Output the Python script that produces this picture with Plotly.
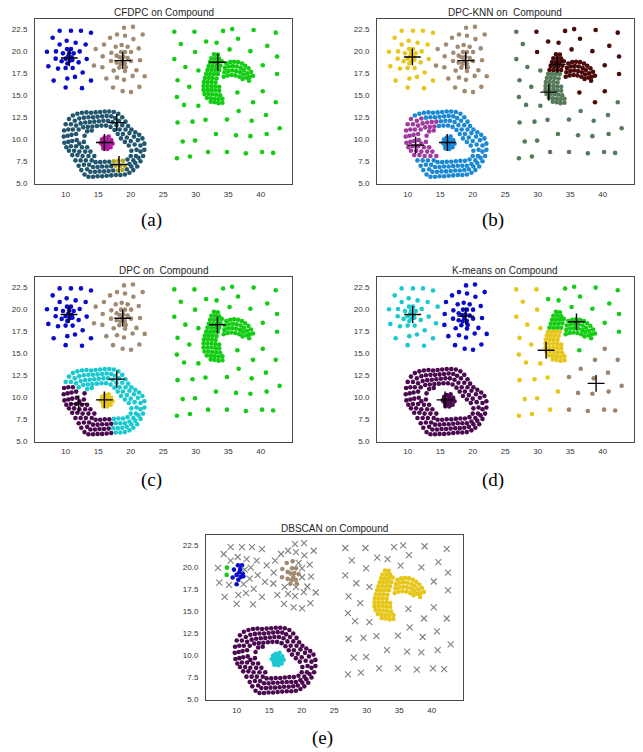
import plotly.graph_objects as go

W, H = 643, 752

# ---------------- data (Compound data set) ----------------
# top-left blob
TL_core = [(10.2, 20.24), (10.81, 20.24), (9.58, 19.75), (10.4, 19.45), (10.92, 19.3), (9.99, 19.15),
           (10.61, 18.92), (11.02, 18.99), (9.38, 18.85), (9.99, 18.09), (10.55, 19.8), (10.25, 18.6)]
TL_green = [(8.51, 19.97), (8.46, 19.15)]
TL_rest = [(9.07, 22.31), (10.81, 22.31), (12.35, 22.31), (13.89, 22.08), (8.0, 21.52), (10.15, 21.18),
           (9.07, 20.76), (11.53, 20.95), (13.07, 20.76), (7.12, 19.94), (11.23, 19.75), (12.15, 19.97),
           (11.99, 18.73), (13.23, 19.11), (7.33, 18.28), (8.82, 18.02), (11.07, 18.09), (12.61, 17.57),
           (8.15, 16.66), (10.25, 16.89), (11.43, 17.08), (13.89, 16.66), (9.99, 15.87), (12.51, 15.8)]

# top-middle blob
TM_cyan = [(14.61, 20.24), (14.35, 18.36)]
TM_core = [(18.61, 20.69), (17.69, 20.5), (17.02, 19.82), (18.51, 19.9), (19.12, 19.9), (17.84, 19.49),
           (18.87, 19.37), (19.53, 19.22), (16.97, 18.88), (17.84, 18.7), (18.71, 18.92), (18.25, 18.13),
           (19.23, 18.17), (18.3, 19.3), (19.1, 18.6), (18.45, 18.55)]
TM_rest = [(18.97, 22.65), (20.35, 22.76), (17.89, 21.89), (19.12, 21.74), (21.84, 21.89), (16.82, 21.52),
           (20.41, 21.37), (15.89, 20.76), (19.53, 20.5), (21.23, 20.31), (20.05, 19.9), (15.69, 19.41),
           (20.05, 18.88), (21.43, 18.96), (15.64, 18.17), (17.38, 17.79), (19.12, 17.75), (20.87, 17.83),
           (16.25, 16.89), (17.89, 17.0), (18.97, 16.74), (20.3, 17.19), (22.15, 17.15), (17.28, 15.87),
           (18.76, 15.46), (20.05, 15.35), (21.33, 15.95)]

# ring
R_A = [(10.0, 11.7), (10.5, 12.3), (10.8, 11.7), (11.4, 12.1), (12.1, 12.35), (11.6, 11.55), (12.3, 11.8),
       (13.0, 11.9), (13.7, 11.95), (14.4, 12.0), (12.0, 11.1), (12.7, 11.35), (13.4, 11.4), (14.1, 11.45),
       (13.3, 10.9), (14.0, 11.0)]
R_B = [(9.8, 9.6), (9.7, 10.3), (11.0, 8.2), (10.5, 8.7), (10.1, 9.1), (9.75, 11.0),
       (10.4, 9.7), (10.3, 10.4), (11.8, 8.2), (11.3, 8.7), (10.8, 9.2), (10.4, 11.1),
       (11.0, 9.8), (10.9, 10.5), (12.6, 8.1), (12.1, 8.6), (11.6, 9.2), (11.1, 11.1),
       (11.7, 9.9), (11.6, 10.6), (13.5, 8.1), (13.0, 8.6), (12.5, 9.1), (12.1, 9.5),
       (12.8, 9.7), (12.9, 10.4), (13.3, 9.1), (13.8, 8.6), (14.4, 8.1)]
R_C = [(17.0, 5.9), (16.3, 5.85), (15.6, 5.8), (14.9, 5.8), (14.2, 5.75), (13.5, 5.75), (12.9, 6.0),
       (12.4, 6.5), (12.0, 7.0), (11.5, 7.6),
       (16.6, 6.4), (15.9, 6.35), (15.2, 6.35), (14.5, 6.3), (13.8, 6.3), (13.3, 6.6), (12.8, 7.1), (12.3, 7.6),
       (17.0, 6.95), (16.3, 6.9), (15.6, 6.9), (14.9, 6.85), (14.2, 6.85), (13.6, 7.1), (13.1, 7.6),
       (16.7, 7.45), (16.0, 7.45), (15.3, 7.4), (14.6, 7.4), (14.0, 7.6)]
R_olive = [(18.7, 6.5), (18.0, 6.45), (19.1, 7.0), (18.4, 7.0), (17.7, 7.0), (18.8, 7.55), (18.1, 7.55),
           (17.4, 7.5)]
R_E = [(11.1, 12.7), (11.8, 12.9), (12.5, 13.0), (13.2, 13.05), (13.9, 13.0), (14.6, 13.05), (15.3, 13.1),
       (16.0, 13.15), (16.7, 13.15), (17.4, 13.1), (18.1, 12.9), (18.7, 12.5), (19.2, 12.0), (19.6, 11.5),
       (20.1, 11.1), (20.7, 10.8), (21.3, 10.5), (21.8, 10.1), (22.1, 9.5), (22.1, 8.8), (21.9, 8.1),
       (21.5, 7.5), (21.0, 6.9), (20.4, 6.5), (19.8, 6.2), (19.1, 6.0), (18.4, 5.95), (17.7, 5.95),
       (12.8, 12.45), (13.5, 12.5), (14.2, 12.5), (14.9, 12.55), (15.6, 12.6), (16.3, 12.65), (17.0, 12.6),
       (17.6, 12.4), (18.2, 12.1), (18.7, 11.6), (19.2, 11.1), (19.8, 10.7), (20.5, 10.3), (21.1, 9.9),
       (21.5, 9.3), (21.5, 8.6), (21.2, 7.9), (20.7, 7.3), (20.1, 6.9), (19.4, 6.6), (17.3, 6.45),
       (15.1, 12.05), (15.8, 12.1), (16.5, 12.1), (17.2, 11.95), (17.8, 11.6), (18.3, 11.1), (18.8, 10.6),
       (19.4, 10.2), (20.0, 9.8), (20.6, 9.4), (20.9, 8.8), (20.8, 8.1), (20.4, 7.6), (19.8, 7.2),
       (14.8, 11.5), (15.5, 11.55), (16.2, 11.55), (16.9, 11.4), (17.5, 11.05), (18.0, 10.6), (18.5, 10.1),
       (19.1, 9.7), (19.7, 9.3), (20.1, 8.7), (20.0, 8.1), (19.5, 7.7)]

# small cluster inside the ring
INNER = [(15.4, 9.6), (15.6, 10.0), (15.7, 9.3), (15.9, 9.7), (16.0, 10.2), (16.1, 9.1), (16.2, 9.5),
         (16.4, 9.9), (16.5, 9.3), (16.6, 10.3), (16.7, 9.6), (16.9, 9.1), (17.0, 9.9), (17.2, 9.5),
         (15.8, 8.95), (16.4, 8.9)]

# dense curved cluster on the right: head + arm, and lower-left body
C_head = [(32.8, 19.65), (33.4, 19.6),
          (32.4, 19.2), (33.0, 19.2), (33.6, 19.15),
          (32.2, 18.75), (32.8, 18.75), (33.4, 18.75), (34.0, 18.85),
          (32.0, 18.3), (32.6, 18.3), (33.2, 18.3), (33.8, 18.35),
          (31.8, 17.85), (32.4, 17.85), (33.0, 17.85), (33.6, 17.85),
          (34.7, 18.6), (35.3, 18.75), (35.9, 18.8), (36.5, 18.75), (37.1, 18.6), (37.6, 18.35),
          (38.1, 18.05), (38.5, 17.65), (38.8, 17.2),
          (34.5, 18.1), (35.1, 18.25), (35.7, 18.3), (36.3, 18.25), (36.9, 18.1), (37.4, 17.85),
          (37.9, 17.5), (38.3, 17.1),
          (34.4, 17.6), (35.0, 17.75), (35.6, 17.8), (36.2, 17.75), (36.8, 17.6), (37.3, 17.35),
          (37.8, 17.0), (38.2, 16.65),
          (34.3, 17.1), (34.9, 17.25), (35.5, 17.3), (36.1, 17.25), (36.7, 17.1), (37.2, 16.85)]
C_body = [(31.6, 17.4), (32.2, 17.4), (32.8, 17.4), (33.4, 17.4),
          (31.4, 16.95), (32.0, 16.95), (32.6, 16.95), (33.2, 16.9),
          (31.25, 16.5), (31.85, 16.5), (32.45, 16.5), (33.05, 16.45),
          (31.2, 16.05), (31.8, 16.05), (32.4, 16.05), (33.0, 16.0), (33.6, 15.95),
          (31.2, 15.6), (31.8, 15.6), (32.4, 15.6), (33.0, 15.55), (33.6, 15.5),
          (31.35, 15.15), (31.95, 15.15), (32.55, 15.1), (33.15, 15.05), (33.75, 15.0),
          (31.7, 14.7), (32.3, 14.65), (32.9, 14.6), (33.5, 14.55), (34.1, 14.6),
          (32.3, 14.25), (32.9, 14.2), (33.5, 14.1), (34.1, 14.15)]

# sparse background points on the right
BG_A = [(26.7, 22.2), (27.7, 20.8), (26.7, 19.1), (28.4, 18.2), (30.4, 17.8), (27.2, 16.7), (29.0, 15.95),
        (27.1, 14.8), (28.2, 13.9), (30.4, 13.8), (27.2, 11.9), (29.5, 12.0), (31.5, 12.2), (33.1, 10.6),
        (28.0, 9.75), (29.9, 9.85), (27.1, 7.85), (29.1, 8.05), (31.9, 8.55)]
BG_B = [(29.8, 22.2), (29.9, 19.9)]
BG_C = [(34.2, 22.3), (35.6, 22.5), (38.9, 22.4), (42.3, 22.1), (31.6, 21.1), (33.2, 20.95), (36.5, 21.4),
        (41.0, 20.6), (35.2, 20.2), (38.4, 20.0), (42.5, 19.4), (40.3, 18.4), (42.5, 17.4), (36.4, 15.3)]
BG_D = [(40.3, 15.45), (38.8, 14.2)]
BG_E = [(42.3, 14.2), (36.6, 13.2), (40.8, 12.75), (34.8, 12.25), (38.6, 12.1), (42.9, 11.25), (36.2, 10.45),
        (38.4, 10.35), (40.9, 10.6), (34.8, 8.55), (37.7, 8.4), (40.2, 8.55), (41.9, 8.45)]

# cluster centres marked with "+"
CFDPC_cx = [10.56, 18.77, 33.38, 17.85, 15.95, 18.2]
CFDPC_cy = [19.23, 18.92, 18.74, 11.89, 9.63, 7.14]
DPCKNN_cx = [10.72, 18.92, 33.0, 31.69, 16.1, 11.23]
DPCKNN_cy = [19.34, 18.92, 18.5, 15.35, 9.63, 9.33]
DPC_cx = [10.51, 18.77, 33.33, 17.85, 12.0, 15.95]
DPC_cy = [19.35, 18.93, 18.18, 12.02, 9.21, 9.66]
KM_cx = [10.77, 18.92, 35.95, 31.28, 38.97, 15.74]
KM_cy = [19.35, 19.16, 18.52, 15.29, 11.53, 9.66]

XTICKS = [10, 15, 20, 25, 30, 35, 40]
YTICKS = [5.0, 7.5, 10.0, 12.5, 15.0, 17.5, 20.0, 22.5]
YTICKTEXT = ["5.0", "7.5", "10.0", "12.5", "15.0", "17.5", "20.0", "22.5"]

# ---------------- styling ----------------
BLUE = "#0a0acc"
BROWN = "#a08a72"
TEAL = "#22566e"
MAGENTA = "#b01aa0"
OLIVE = "#b4a81c"
GREEN = "#14cc14"
YELLOW = "#e6c619"
SKY = "#1a88d4"
PURPLE = "#a03a9c"
MAROON = "#4a0a0a"
GREYGREEN = "#567a5a"
CYAN = "#19c9cf"
DPURPLE = "#4b0a4f"
KBROWN = "#9c846e"
NOISE = "noise"

SEG_ORDER = [("TL_core", TL_core), ("TL_green", TL_green), ("TL_rest", TL_rest),
             ("TM_cyan", TM_cyan), ("TM_core", TM_core), ("TM_rest", TM_rest),
             ("R_A", R_A), ("R_B", R_B), ("R_C", R_C), ("R_olive", R_olive), ("R_E", R_E),
             ("INNER", INNER), ("C_head", C_head), ("C_body", C_body),
             ("BG_A", BG_A), ("BG_B", BG_B), ("BG_C", BG_C), ("BG_D", BG_D), ("BG_E", BG_E)]


def fill(**kw):
    return dict(kw)


CFDPC_col = fill(TL_core=BLUE, TL_green=BLUE, TL_rest=BLUE, TM_cyan=BROWN, TM_core=BROWN, TM_rest=BROWN,
                 R_A=TEAL, R_B=TEAL, R_C=TEAL, R_olive=OLIVE, R_E=TEAL, INNER=MAGENTA, C_head=GREEN,
                 C_body=GREEN, BG_A=GREEN, BG_B=GREEN, BG_C=GREEN, BG_D=GREEN, BG_E=GREEN)
DPCKNN_col = fill(TL_core=YELLOW, TL_green=YELLOW, TL_rest=YELLOW, TM_cyan=BROWN, TM_core=BROWN,
                  TM_rest=BROWN, R_A=PURPLE, R_B=PURPLE, R_C=SKY, R_olive=SKY, R_E=SKY, INNER=SKY,
                  C_head=MAROON, C_body=GREYGREEN, BG_A=GREYGREEN, BG_B=MAROON, BG_C=MAROON, BG_D=MAROON,
                  BG_E=GREYGREEN)
DPC_col = fill(TL_core=BLUE, TL_green=BLUE, TL_rest=BLUE, TM_cyan=BROWN, TM_core=BROWN, TM_rest=BROWN,
               R_A=CYAN, R_B=DPURPLE, R_C=DPURPLE, R_olive=CYAN, R_E=CYAN, INNER=YELLOW, C_head=GREEN,
               C_body=GREEN, BG_A=GREEN, BG_B=GREEN, BG_C=GREEN, BG_D=GREEN, BG_E=GREEN)
KM_col = fill(TL_core=CYAN, TL_green=CYAN, TL_rest=CYAN, TM_cyan=CYAN, TM_core=BLUE, TM_rest=BLUE,
              R_A=DPURPLE, R_B=DPURPLE, R_C=DPURPLE, R_olive=DPURPLE, R_E=DPURPLE, INNER=DPURPLE,
              C_head=GREEN, C_body=YELLOW, BG_A=YELLOW, BG_B=YELLOW, BG_C=GREEN, BG_D=KBROWN, BG_E=KBROWN)
DB_col = fill(TL_core=BLUE, TL_green=GREEN, TL_rest=NOISE, TM_cyan=NOISE, TM_core=BROWN, TM_rest=NOISE,
              R_A=DPURPLE, R_B=DPURPLE, R_C=DPURPLE, R_olive=DPURPLE, R_E=DPURPLE, INNER=CYAN,
              C_head=YELLOW, C_body=YELLOW, BG_A=NOISE, BG_B=NOISE, BG_C=NOISE, BG_D=NOISE, BG_E=NOISE)

PANELS = [
    dict(title="CFDPC on Compound", cap="(a)", box=(35, 19, 292, 185), cap_xy=(151, 221),
         col=CFDPC_col, cx=CFDPC_cx, cy=CFDPC_cy),
    dict(title="DPC-KNN on\u00a0 Compound", cap="(b)", box=(377, 19, 634, 185), cap_xy=(493, 221),
         col=DPCKNN_col, cx=DPCKNN_cx, cy=DPCKNN_cy),
    dict(title="DPC on\u00a0 Compound", cap="(c)", box=(35, 278, 292, 444), cap_xy=(151, 483),
         col=DPC_col, cx=DPC_cx, cy=DPC_cy),
    dict(title="K-means on Compound", cap="(d)", box=(377, 278, 634, 444), cap_xy=(493, 483),
         col=KM_col, cx=KM_cx, cy=KM_cy),
    dict(title="DBSCAN on Compound", cap="(e)", box=(206, 538, 463, 704), cap_xy=(322, 742),
         col=DB_col, cx=[], cy=[]),
]

XR = [5.28, 44.8]
YR = [4.92, 23.66]

fig = go.Figure()
annotations = []
layout_axes = {}

for i, p in enumerate(PANELS, start=1):
    xa = "x" if i == 1 else f"x{i}"
    ya = "y" if i == 1 else f"y{i}"
    groups = {}
    order = []
    for name, pts in SEG_ORDER:
        c = p["col"][name]
        if c not in groups:
            groups[c] = []
            order.append(c)
        groups[c].extend(pts)
    for c in order:
        pts = groups[c]
        xs = [q[0] for q in pts]
        ys = [q[1] for q in pts]
        if c == NOISE:
            marker = dict(symbol="x-thin", size=6, line=dict(width=1.1, color="#808080"), color="#808080")
        else:
            marker = dict(symbol="circle", size=4.6, color=c, line=dict(width=0))
        fig.add_trace(go.Scatter(x=xs, y=ys, mode="markers", marker=marker, xaxis=xa, yaxis=ya,
                                 showlegend=False, hoverinfo="skip"))
    if p["cx"]:
        fig.add_trace(go.Scatter(x=p["cx"], y=p["cy"], mode="markers",
                                 marker=dict(symbol="cross-thin", size=12, line=dict(width=1.4, color="black")),
                                 xaxis=xa, yaxis=ya, showlegend=False, hoverinfo="skip"))

    x0, y0, x1, y1 = p["box"]
    kx = "xaxis" if i == 1 else f"xaxis{i}"
    ky = "yaxis" if i == 1 else f"yaxis{i}"
    layout_axes[kx] = dict(domain=[x0 / W, x1 / W], range=XR, anchor=ya, showgrid=False, zeroline=False,
                           showline=True, mirror=True, linecolor="#4a4a4a", linewidth=1,
                           tickvals=XTICKS, ticks="outside", ticklen=2, tickcolor="rgba(0,0,0,0)",
                           tickfont=dict(size=8, color="#333333", family="Liberation Sans, Arial, sans-serif"))
    layout_axes[ky] = dict(domain=[1 - y1 / H, 1 - y0 / H], range=YR, anchor=xa, showgrid=False,
                           zeroline=False, showline=True, mirror=True, linecolor="#4a4a4a", linewidth=1,
                           tickvals=YTICKS, ticktext=YTICKTEXT, ticks="outside", ticklen=5,
                           tickcolor="rgba(0,0,0,0)",
                           tickfont=dict(size=8, color="#333333", family="Liberation Sans, Arial, sans-serif"))
    annotations.append(dict(text=p["title"], x=(x0 + x1) / 2 / W, y=1 - (y0 - 6.5) / H, xref="paper",
                            yref="paper", xanchor="center", yanchor="middle", showarrow=False,
                            font=dict(size=10, color="#262626", family="Liberation Sans, Arial, sans-serif")))
    cxp, cyp = p["cap_xy"]
    annotations.append(dict(text=p["cap"], x=cxp / W, y=1 - cyp / H, xref="paper", yref="paper",
                            xanchor="center", yanchor="middle", showarrow=False,
                            font=dict(size=19, color="black", family="Liberation Serif, Times New Roman, serif")))

fig.update_layout(width=W, height=H, margin=dict(l=0, r=0, t=0, b=0), paper_bgcolor="white",
                  plot_bgcolor="white", showlegend=False, annotations=annotations, **layout_axes)

fig.write_html("out.html")
